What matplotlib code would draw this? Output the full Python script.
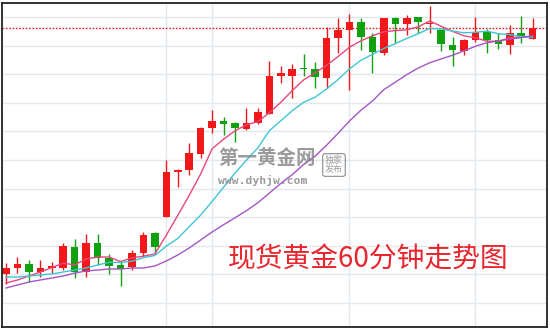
import matplotlib.pyplot as plt
import numpy as np
import pandas as pd

plt.rcParams['font.family'] = ['Noto Sans CJK SC', 'DejaVu Sans']

# 60-minute spot gold candles (red = up, green = down)
opens = [1282.6, 1283.2, 1283.6, 1282.8, 1283.2, 1283.2, 1285.3, 1282.8, 1285.7, 1284.2,
         1283.5, 1283.3, 1284.7, 1286.7, 1288.3, 1292.8, 1293.0, 1294.6, 1297.2, 1297.9,
         1297.7, 1297.1, 1297.7, 1298.6, 1302.4, 1302.4, 1303.2, 1303.1, 1302.2, 1306.2,
         1307.0, 1307.8, 1306.3, 1304.7, 1308.2, 1307.6, 1308.3, 1307.6, 1307.0, 1305.5,
         1304.9, 1306.0, 1306.8, 1306.0, 1305.5, 1306.7, 1306.1]
highs = [1283.7, 1284.3, 1284.0, 1284.0, 1283.8, 1285.7, 1286.1, 1286.6, 1286.6, 1284.6,
         1283.8, 1285.0, 1286.8, 1286.8, 1294.0, 1293.1, 1295.7, 1297.3, 1299.0, 1298.3,
         1297.8, 1299.2, 1299.2, 1303.9, 1303.4, 1303.6, 1304.6, 1303.8, 1307.3, 1308.2,
         1308.6, 1308.2, 1306.7, 1308.2, 1308.3, 1308.5, 1308.3, 1309.4, 1307.0, 1306.3,
         1306.1, 1308.3, 1307.1, 1306.7, 1307.5, 1308.4, 1308.2]
lows = [1281.6, 1282.7, 1281.8, 1282.3, 1282.7, 1283.0, 1282.2, 1282.3, 1283.5, 1282.6,
        1281.4, 1283.0, 1284.4, 1284.6, 1288.3, 1291.3, 1292.5, 1294.2, 1296.7, 1296.5,
        1295.8, 1297.0, 1297.6, 1298.6, 1301.7, 1300.2, 1302.4, 1301.2, 1301.2, 1304.7,
        1301.0, 1305.0, 1302.7, 1304.5, 1305.7, 1306.5, 1306.7, 1306.7, 1304.9, 1303.4,
        1304.5, 1305.8, 1304.7, 1305.1, 1304.6, 1305.7, 1306.1]
closes = [1283.2, 1283.6, 1282.8, 1283.2, 1283.4, 1285.4, 1282.8, 1285.7, 1284.2, 1283.4,
          1283.1, 1284.7, 1286.5, 1285.3, 1292.8, 1293.0, 1294.7, 1297.2, 1297.9, 1297.6,
          1297.2, 1297.7, 1298.8, 1302.4, 1302.7, 1303.1, 1303.1, 1302.3, 1306.2, 1307.0,
          1307.8, 1306.3, 1304.8, 1308.2, 1307.6, 1308.2, 1307.8, 1307.7, 1305.6, 1305.0,
          1306.0, 1306.8, 1306.0, 1305.6, 1306.7, 1306.2, 1307.2]

# moving averages before the window is full (history left of the chart)
ma5_head = [1281.7, 1282.0, 1282.4, 1282.8]
ma10_head = [1282.3, 1282.3, 1282.4, 1282.5, 1282.6, 1282.8, 1283.0, 1283.2, 1283.5]
ma20_head = [1281.2, 1281.5, 1281.8, 1282.0, 1282.2, 1282.4, 1282.7, 1282.9, 1283.0, 1283.1,
             1283.1, 1283.2, 1283.2, 1283.4, 1283.9, 1284.5, 1285.2, 1286.0, 1286.8]

# candles where the vertical time grid lines sit
vgrid_idx = [14, 18, 30, 41]

title_text = '现货黄金60分钟走势图'


def moving_average(values, window, head):
    ma = pd.Series(values).rolling(window).mean().to_numpy()
    ma[:len(head)] = head
    return ma


def draw_candles(ax, o, h, l, c):
    x = np.arange(len(o))
    up = c >= o
    colors = np.where(up, '#f01818', '#10a010')
    ax.vlines(x, l, h, colors=colors, linewidth=1.0, zorder=2)
    bottom = np.minimum(o, c)
    height = np.maximum(np.abs(c - o), 0.12)
    ax.bar(x, height, bottom=bottom, width=0.66, color=colors, linewidth=0, zorder=2)


def main():
    o = np.array(opens)
    h = np.array(highs)
    l = np.array(lows)
    c = np.array(closes)
    x = np.arange(len(c))

    fig = plt.figure(figsize=(5.5, 3.3), dpi=100)
    ax = fig.add_axes([2 / 550, 3 / 330, 545 / 550, 324 / 330])

    draw_candles(ax, o, h, l, c)

    ax.plot(x, moving_average(c, 5, ma5_head), color='#e8467c', linewidth=1.0, zorder=3)
    ax.plot(x, moving_average(c, 10, ma10_head), color='#3cc6d2', linewidth=1.0, zorder=3)
    ax.plot(x, moving_average(c, 20, ma20_head), color='#a455c4', linewidth=1.0, zorder=3)

    # last price line
    ax.axhline(c[-1], color='#e02020', linestyle=(0, (1.2, 1.2)), linewidth=1.0, zorder=1)

    ax.set_xlim(-0.35, 47.25)
    ax.set_ylim(1277.3, 1309.7)
    ax.set_yticks(np.linspace(1279.7, 1308.3, 11))
    ax.set_xticks(vgrid_idx)
    ax.grid(True, color='#e3e8ec', linewidth=1.0, zorder=0)
    ax.set_axisbelow(True)
    ax.tick_params(length=0, labelleft=False, labelbottom=False)
    for spine in ax.spines.values():
        spine.set_color('#222222')
        spine.set_linewidth(1.3)

    # watermark
    fig.text(218 / 550, 1 - 159 / 330, '第一黄金网', fontsize=14, fontweight='bold',
             color='#8a8a8a', alpha=0.85, ha='left', va='center')
    fig.text(218 / 550, 1 - 180 / 330, 'www.dyhjw.com', fontsize=8.2, fontweight='bold',
             family='DejaVu Sans Mono', color='#8a8a8a', alpha=0.85, ha='left', va='center')
    fig.text(334 / 550, 1 - 165 / 330, '独家\n发布', fontsize=6.5, color='#8a8a8a', alpha=0.85,
             ha='center', va='center', linespacing=1.0,
             bbox=dict(boxstyle='round,pad=0.25', fc='none', ec='#8a8a8a', lw=0.8))

    fig.text(228 / 550, 1 - 260 / 330, title_text, fontsize=20, color='#e8262e',
             ha='left', va='center')

    fig.savefig('out.png', dpi=100, facecolor='white')


if __name__ == '__main__':
    main()
